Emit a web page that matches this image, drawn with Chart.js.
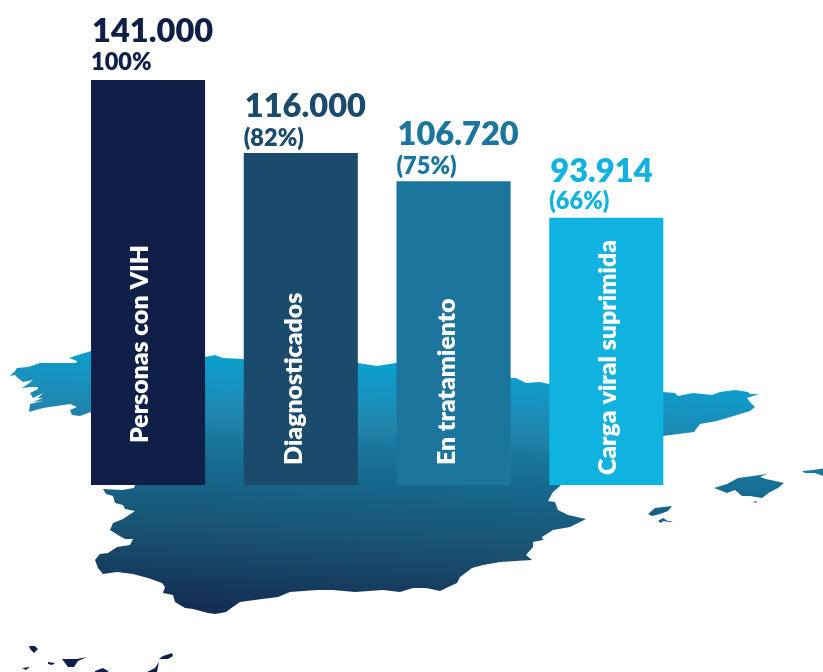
<!DOCTYPE html>
<html lang="es">
<head>
<meta charset="utf-8">
<title>Cascada VIH</title>
<style>html,body{margin:0;padding:0;background:#fff}canvas{display:block}</style>
<script src="https://cdn.jsdelivr.net/npm/chart.js@4"></script>
</head>
<body>
<canvas id="c" width="823" height="672"></canvas>
<script>
const categories = ['Personas con VIH', 'Diagnosticados', 'En tratamiento', 'Carga viral suprimida'];
const percentValues = [100, 82, 75, 66];
const countLabels = ['141.000', '116.000', '106.720', '93.914'];
const percentLabels = ['100%', '(82%)', '(75%)', '(66%)'];
const barColors = ['#101f47', '#1a4a6c', '#1c759c', '#10b2e0'];
const insideLabelBottoms = [443, 465, 465, 475];
const insideLabelShifts = [0, 1, 1, 10];
const countBaselineGaps = [38, 36, 36, 36];
const percentBaselineGaps = [10, 7, 7, 9];

// Decorative background map outlines (not data)
const mainland = [[91,351],[78,355],[69,358],[77,361],[76,363],[60,363],[40,363],[28,367],[17,368],[15,371],[10,376],[15,375],[18,378],[23,382],[33,380],[28,384],[22,388],[30,387],[38,387],[38,389],[30,393],[33,398],[43,393],[38,398],[43,398],[33,402],[43,401],[30,404],[29,412],[43,408],[70,404],[77,407],[70,410],[72,415],[80,416],[91,412],
[100,485],[135,485],[134,488],[122,490],[103,489],[106,494],[113,496],[115,503],[123,505],[125,509],[135,511],[129,515],[123,519],[113,523],[110,530],[118,535],[125,539],[133,539],[130,545],[117,547],[108,553],[100,554],[95,560],[98,568],[103,574],[117,572],[133,574],[148,578],[162,583],[165,587],[163,593],[173,595],[175,602],[185,608],[193,609],[208,613],[215,614],[226,612],[230,609],[240,602],[262,599],[278,597],[290,592],[317,590],[333,590],[355,592],[383,590],[400,592],[413,588],[426,588],[440,591],[442,590],[457,583],[460,577],[472,568],[483,565],[500,562],[532,560],[526,555],[533,547],[533,542],[543,540],[542,537],[553,530],[570,527],[586,519],[568,515],[558,510],[555,502],[548,501],[553,492],[561,485],
[600,470],[663,436],[694,432],[700,424],[717,421],[737,415],[750,411],[755,407],[750,402],[747,398],[759,394],[750,394],[748,392],[735,390],[720,392],[712,395],[693,393],[678,396],[675,393],[663,392],
[549,384],[540,382],[526,383],[516,378],[510,378],[460,370],[396,363],[377,366],[358,363],[243,359],[223,358],[215,355],[205,357],[150,350]];
const mallorca = [[714,488],[727,484],[738,478],[753,476],[767,474],[760,477],[766,479],[775,481],[784,483],[778,488],[770,492],[762,498],[750,496],[742,496],[735,490],[727,493]];
const cabrera = [[753,502],[757,501],[756,503]];
const menorca = [[802,471],[813,470],[823,468.5],[823,476],[815,473],[805,473]];
const ibiza = [[648,514],[655,508],[672,506],[668,511],[660,514],[652,516]];
const formentera = [[658,521],[663,518],[668,521],[673,521],[670,522],[663,521],[661,523]];
const gradientIslands = [mainland, mallorca, cabrera, menorca, ibiza, formentera];
const canaries = [
  [[29,646],[35,646],[38,649],[34,653],[30,649]],
  [[48,662],[55,663],[52,665],[48,664]],
  [[62,659],[77,659],[87,657],[78,661],[74,667],[68,667]],
  [[22,668],[30,667],[26,670]],
  [[95,672],[95,671],[103,668],[108,671],[108,672]],
  [[159,662],[155,668],[147,672],[157,672]],
  [[159,659],[163,656],[172,653],[173,656],[168,659]]
];

function trace(ctx, poly) {
  poly.forEach((p, i) => i ? ctx.lineTo(p[0], p[1]) : ctx.moveTo(p[0], p[1]));
  ctx.closePath();
}

const mapPlugin = {
  id: 'spainMap',
  beforeDatasetsDraw(chart) {
    const ctx = chart.ctx;
    ctx.save();
    const g = ctx.createLinearGradient(420, 353, 405, 615);
    g.addColorStop(0, '#03a9d8');
    g.addColorStop(0.13, '#1396c4');
    g.addColorStop(0.30, '#2184ab');
    g.addColorStop(0.36, '#1a789f');
    g.addColorStop(0.50, '#16678c');
    g.addColorStop(0.75, '#19506f');
    g.addColorStop(1, '#142f55');
    ctx.fillStyle = g;
    ctx.beginPath();
    gradientIslands.forEach(p => trace(ctx, p));
    ctx.fill();
    ctx.fillStyle = '#101f47';
    ctx.beginPath();
    canaries.forEach(p => trace(ctx, p));
    ctx.fill();
    ctx.restore();
  }
};

const labelPlugin = {
  id: 'barLabels',
  afterDatasetsDraw(chart) {
    const ctx = chart.ctx;
    const bars = chart.getDatasetMeta(0).data;
    ctx.save();
    bars.forEach((bar, i) => {
      const left = bar.x - bar.width / 2;
      ctx.fillStyle = barColors[i];
      ctx.textAlign = 'left';
      ctx.textBaseline = 'alphabetic';
      ctx.font = '800 32.6px Lato';
      ctx.fillText(countLabels[i], left + 1, bar.y - countBaselineGaps[i]);
      ctx.font = '800 23.5px Lato';
      ctx.fillText(percentLabels[i], left, bar.y - percentBaselineGaps[i]);
      ctx.save();
      ctx.translate(bar.x + insideLabelShifts[i], insideLabelBottoms[i]);
      ctx.rotate(-Math.PI / 2);
      ctx.fillStyle = '#ffffff';
      ctx.font = '800 24.8px Lato';
      ctx.fillText(categories[i], 0, 0);
      ctx.restore();
    });
    ctx.restore();
  }
};

new Chart(document.getElementById('c'), {
  type: 'bar',
  data: {
    labels: categories,
    datasets: [{
      data: percentValues,
      backgroundColor: barColors,
      borderWidth: 0,
      categoryPercentage: 1,
      barPercentage: 114 / 152.67
    }]
  },
  options: {
    responsive: false,
    animation: false,
    layout: { padding: { left: 71.67, right: 140.33, top: 80, bottom: 187 } },
    plugins: { legend: { display: false }, tooltip: { enabled: false }, title: { display: false } },
    scales: {
      x: { display: false },
      y: { display: false, min: 0, max: 100 }
    }
  },
  plugins: [mapPlugin, labelPlugin]
});
</script>
</body>
</html>
